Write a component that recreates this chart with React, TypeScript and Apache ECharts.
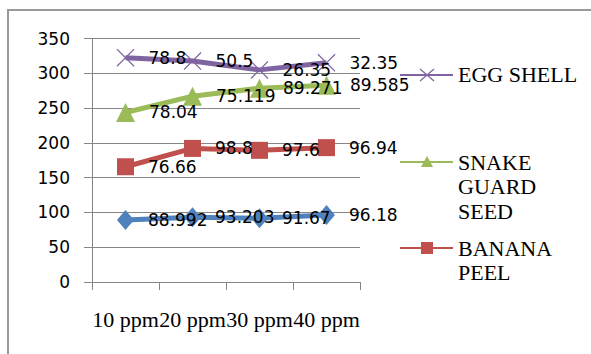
import React, { useEffect, useRef } from "react";
import * as echarts from "echarts";

const categories = ["10 ppm", "20 ppm", "30 ppm", "40 ppm"];
const yTicks = [0, 50, 100, 150, 200, 250, 300, 350];

const series4Values = [88.992, 93.203, 91.67, 96.18];
const bananaPeelValues = [76.66, 98.8, 97.6, 96.94];
const snakeGuardSeedValues = [78.04, 75.119, 89.271, 89.585];
const eggShellValues = [78.8, 50.5, 26.35, 32.35];

const legendNames = ["EGG SHELL", "SNAKE\nGUARD\nSEED", "BANANA\nPEEL"];

const BLUE = "#4F81BD";
const RED = "#C0504D";
const GREEN = "#9BBB59";
const PURPLE = "#8064A2";

const CROSS =
  "path://M1,0 L10,9 L19,0 L20,1 L11,10 L20,19 L19,20 L10,11 L1,20 L0,19 L9,10 L0,1 Z";

export default function App() {
  const ref = useRef<HTMLDivElement>(null);
  useEffect(() => {
    if (!ref.current) return;
    const chart = echarts.init(ref.current, null, { renderer: "svg" });
    const labelCfg = {
      show: true,
      position: "right" as const,
      distance: 14,
      color: "#000",
      fontFamily: "DejaVu Sans",
      fontSize: 17,
      formatter: (p: any) => String(p.value),
    };
    const mk = (name: string, data: number[], color: string, symbol: string, size: any) => ({
      type: "line",
      name,
      stack: "total",
      data,
      symbol,
      symbolSize: size,
      showAllSymbol: true,
      lineStyle: { color, width: 5 },
      itemStyle: { color, borderWidth: 0 },
      label: labelCfg,
      emphasis: { disabled: true },
    });
    const legendYs = [75, 162, 248];
    const legendColors = [PURPLE, GREEN, RED];
    const graphics: any[] = [
      {
        type: "rect",
        shape: { x: 8, y: 10, width: 700, height: 500 },
        style: { fill: "none", stroke: "#9a9a9a", lineWidth: 2 },
        silent: true,
      },
    ];
    const titles: any[] = [];
    legendNames.forEach((n, i) => {
      const y = legendYs[i];
      const c = legendColors[i];
      graphics.push({
        type: "line",
        shape: { x1: 400, y1: y, x2: 453, y2: y },
        style: { stroke: c, lineWidth: 2 },
      });
      if (i === 0) {
        graphics.push({
          type: "line",
          shape: { x1: 420, y1: y - 6, x2: 434, y2: y + 6 },
          style: { stroke: c, lineWidth: 1.3 },
        });
        graphics.push({
          type: "line",
          shape: { x1: 420, y1: y + 6, x2: 434, y2: y - 6 },
          style: { stroke: c, lineWidth: 1.3 },
        });
      } else if (i === 1) {
        graphics.push({
          type: "polygon",
          shape: { points: [[427, y - 6], [433, y + 5], [421, y + 5]] },
          style: { fill: c },
        });
      } else {
        graphics.push({
          type: "rect",
          shape: { x: 421, y: y - 6, width: 12, height: 12 },
          style: { fill: c },
        });
      }
      const ts: any = {
        color: "#000",
        fontFamily: "Liberation Serif, serif",
        fontSize: 22,
        fontWeight: "normal",
      };
      if (i > 0) ts.lineHeight = 24.5;
      titles.push({
        text: n,
        left: 458,
        top: y - 12,
        padding: 0,
        textStyle: ts,
      });
    });

    chart.setOption({
      animation: false,
      title: titles,
      grid: { left: 92, top: 38.5, right: 231, bottom: 72, containLabel: false },
      xAxis: {
        type: "category",
        data: categories,
        boundaryGap: true,
        axisLine: { show: true, lineStyle: { color: "#868686", width: 1 } },
        axisTick: { show: true, length: 8, lineStyle: { color: "#868686" } },
        axisLabel: {
          color: "#000",
          fontFamily: "Liberation Serif",
          fontSize: 22,
          margin: 26,
          interval: 0,
        },
      },
      yAxis: {
        type: "value",
        min: yTicks[0],
        max: yTicks[yTicks.length - 1],
        interval: 50,
        axisLine: { show: true, lineStyle: { color: "#868686", width: 1 } },
        axisTick: { show: true, length: 8, lineStyle: { color: "#868686" } },
        splitLine: { show: true, lineStyle: { color: "#868686", width: 1 } },
        axisLabel: {
          color: "#000",
          fontFamily: "DejaVu Sans",
          fontSize: 17,
          margin: 22,
        },
      },
      series: [
        mk("SERIES 4", series4Values, BLUE, "diamond", [17, 20]),
        mk("BANANA PEEL", bananaPeelValues, RED, "rect", 17),
        mk("SNAKE GUARD SEED", snakeGuardSeedValues, GREEN, "triangle", 19),
        mk("EGG SHELL", eggShellValues, PURPLE, CROSS, 18),
      ],
      graphic: graphics,
    });
    return () => chart.dispose();
  }, []);
  return (
    <div
      ref={ref}
      style={{ position: "absolute", left: 0, top: 0, width: 591, height: 354, background: "#fff" }}
    />
  );
}
